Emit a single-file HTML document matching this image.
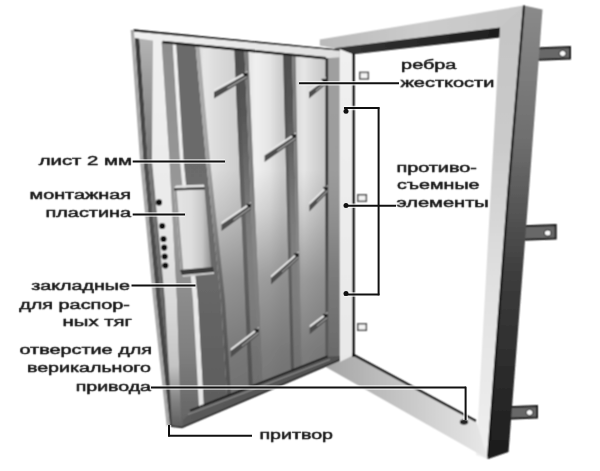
<!DOCTYPE html>
<html><head><meta charset="utf-8"><style>
html,body{margin:0;padding:0;background:#fff;width:600px;height:471px;overflow:hidden}
svg{display:block}
text{font-family:"Liberation Sans",sans-serif;font-size:12.5px;fill:#161616;stroke:#161616;stroke-width:0.45px}
</style></head><body>
<svg width="600" height="471" viewBox="0 0 600 471"><defs><linearGradient id="gTop" x1="0" y1="0" x2="1" y2="0"><stop offset="0" stop-color="#bababa"/><stop offset="0.5" stop-color="#cccccc"/><stop offset="1" stop-color="#c6c6c6"/></linearGradient><linearGradient id="gReb" x1="0" y1="0" x2="1" y2="0"><stop offset="0" stop-color="#333"/><stop offset="1" stop-color="#1e1e1e"/></linearGradient><linearGradient id="gRight" x1="0" y1="0" x2="0" y2="1"><stop offset="0" stop-color="#c4c4c4"/><stop offset="0.3" stop-color="#cacaca"/><stop offset="0.6" stop-color="#e0e0e0"/><stop offset="1" stop-color="#f0f0f0"/></linearGradient><linearGradient id="gDark" x1="0" y1="0" x2="0" y2="1"><stop offset="0" stop-color="#8a8a8a"/><stop offset="0.3" stop-color="#6e6e6e"/><stop offset="0.6" stop-color="#3c3c3c"/><stop offset="1" stop-color="#1c1c1c"/></linearGradient><linearGradient id="gSill" x1="0" y1="0" x2="1" y2="0"><stop offset="0" stop-color="#a4a4a4"/><stop offset="0.45" stop-color="#c4c4c4"/><stop offset="1" stop-color="#e8e8e8"/></linearGradient><linearGradient id="gHinge" x1="0" y1="0" x2="0" y2="1"><stop offset="0" stop-color="#f0f0f0"/><stop offset="1" stop-color="#e8e8e8"/></linearGradient><linearGradient id="gLeaf" x1="0" y1="30" x2="0" y2="430" gradientUnits="userSpaceOnUse"><stop offset="0" stop-color="#cfcfcf"/><stop offset="0.4" stop-color="#bdbdbd"/><stop offset="0.65" stop-color="#9a9a9a"/><stop offset="1" stop-color="#7a7a7a"/></linearGradient><linearGradient id="gA" x1="0" y1="30" x2="0" y2="430" gradientUnits="userSpaceOnUse"><stop offset="0" stop-color="#3a3a3a"/><stop offset="0.4" stop-color="#505050"/><stop offset="1" stop-color="#404040"/></linearGradient><linearGradient id="gB" x1="0" y1="30" x2="0" y2="430" gradientUnits="userSpaceOnUse"><stop offset="0" stop-color="#b8b8b8"/><stop offset="0.3" stop-color="#7a7a7a"/><stop offset="1" stop-color="#555555"/></linearGradient><linearGradient id="gC" x1="0" y1="30" x2="0" y2="430" gradientUnits="userSpaceOnUse"><stop offset="0" stop-color="#f0f0f0"/><stop offset="0.45" stop-color="#eaeaea"/><stop offset="0.7" stop-color="#d8d8d8"/><stop offset="0.84" stop-color="#c4c4c4"/><stop offset="0.93" stop-color="#808080"/><stop offset="1" stop-color="#5a5a5a"/></linearGradient><linearGradient id="gD" x1="0" y1="30" x2="0" y2="430" gradientUnits="userSpaceOnUse"><stop offset="0" stop-color="#8c8c8c"/><stop offset="0.5" stop-color="#9a9a9a"/><stop offset="0.8" stop-color="#808080"/><stop offset="1" stop-color="#606060"/></linearGradient><linearGradient id="gE" x1="0" y1="30" x2="0" y2="430" gradientUnits="userSpaceOnUse"><stop offset="0" stop-color="#f0f0f0"/><stop offset="1" stop-color="#e4e4e4"/></linearGradient><linearGradient id="gF" x1="0" y1="30" x2="0" y2="430" gradientUnits="userSpaceOnUse"><stop offset="0" stop-color="#6a6a6a"/><stop offset="0.5" stop-color="#6c6c6c"/><stop offset="1" stop-color="#5a5a5a"/></linearGradient><linearGradient id="gP" x1="0" y1="0" x2="1" y2="0"><stop offset="0" stop-color="#c8c8c8"/><stop offset="0.08" stop-color="#e6e6e6"/><stop offset="0.35" stop-color="#ececec"/><stop offset="0.65" stop-color="#d2d2d2"/><stop offset="1" stop-color="#c2c2c2"/></linearGradient><linearGradient id="gPv" x1="0" y1="30" x2="0" y2="430" gradientUnits="userSpaceOnUse"><stop offset="0" stop-color="#6a6a6a" stop-opacity="0"/><stop offset="0.35" stop-color="#6a6a6a" stop-opacity="0.0"/><stop offset="0.45" stop-color="#6a6a6a" stop-opacity="0.18"/><stop offset="0.62" stop-color="#6a6a6a" stop-opacity="0.6"/><stop offset="0.8" stop-color="#646464" stop-opacity="0.8"/><stop offset="1" stop-color="#5a5a5a" stop-opacity="0.88"/></linearGradient><linearGradient id="gP1" x1="0" y1="0" x2="1" y2="0"><stop offset="0" stop-color="#c8c8c8"/><stop offset="0.2" stop-color="#e6e6e6"/><stop offset="0.45" stop-color="#dadada"/><stop offset="1" stop-color="#c4c4c4"/></linearGradient><linearGradient id="gP2" x1="0" y1="0" x2="1" y2="0"><stop offset="0" stop-color="#e0e0e0"/><stop offset="0.2" stop-color="#f0f0f0"/><stop offset="0.5" stop-color="#e4e4e4"/><stop offset="0.75" stop-color="#cccccc"/><stop offset="1" stop-color="#c2c2c2"/></linearGradient><linearGradient id="gP3" x1="0" y1="0" x2="1" y2="0"><stop offset="0" stop-color="#d8d8d8"/><stop offset="0.3" stop-color="#e6e6e6"/><stop offset="0.7" stop-color="#d2d2d2"/><stop offset="1" stop-color="#c6c6c6"/></linearGradient><linearGradient id="gS" x1="0" y1="30" x2="0" y2="430" gradientUnits="userSpaceOnUse"><stop offset="0" stop-color="#4c4c4c"/><stop offset="0.2" stop-color="#555555"/><stop offset="0.45" stop-color="#7a7a7a"/><stop offset="0.65" stop-color="#a0a0a0"/><stop offset="1" stop-color="#c0c0c0"/></linearGradient><linearGradient id="gS2" x1="0" y1="30" x2="0" y2="430" gradientUnits="userSpaceOnUse"><stop offset="0" stop-color="#7c7c7c"/><stop offset="0.4" stop-color="#808080"/><stop offset="0.65" stop-color="#a8a8a8"/><stop offset="1" stop-color="#c0c0c0"/></linearGradient><linearGradient id="gM" x1="0" y1="30" x2="0" y2="430" gradientUnits="userSpaceOnUse"><stop offset="0" stop-color="#a0a0a0"/><stop offset="0.5" stop-color="#9a9a9a"/><stop offset="1" stop-color="#7a7a7a"/></linearGradient><linearGradient id="gSL" x1="0" y1="30" x2="0" y2="430" gradientUnits="userSpaceOnUse"><stop offset="0" stop-color="#4a4a4a" stop-opacity="0.3"/><stop offset="0.5" stop-color="#4a4a4a" stop-opacity="0.5"/><stop offset="1" stop-color="#4a4a4a" stop-opacity="0.9"/></linearGradient><linearGradient id="gTR" x1="0" y1="0" x2="1" y2="0"><stop offset="0" stop-color="#f2f2f2"/><stop offset="1" stop-color="#e0e0e0"/></linearGradient><linearGradient id="gBR" x1="0" y1="0" x2="1" y2="0"><stop offset="0" stop-color="#5a5a5a"/><stop offset="1" stop-color="#505050"/></linearGradient><linearGradient id="gPlate" x1="0" y1="0" x2="1" y2="0"><stop offset="0" stop-color="#e4e4e4"/><stop offset="0.45" stop-color="#dedede"/><stop offset="0.75" stop-color="#c8c8c8"/><stop offset="1" stop-color="#8e8e8e"/></linearGradient><filter id="bl" x="-5%" y="-5%" width="110%" height="110%"><feConvolveMatrix order="3" kernelMatrix="1 2 1 2 4 2 1 2 1" divisor="16" edgeMode="none"/></filter><filter id="bt" x="-5%" y="-5%" width="110%" height="110%"><feConvolveMatrix order="3" kernelMatrix="0 1 0 1 6 1 0 1 0" divisor="10" edgeMode="none"/></filter></defs>
<rect width="600" height="471" fill="#fff"/>
<g filter="url(#bl)"><polygon points="534.0,48.5 570.0,47.0 570.0,58.5 534.0,60.0" fill="#686868" stroke="#1a1a1a" stroke-width="2"/><ellipse cx="562.7" cy="53.5" rx="3.4" ry="3.1" fill="#fafafa" stroke="#222" stroke-width="1"/><polygon points="516.7,226.5 555.7,225.0 555.7,238.5 516.7,240.0" fill="#686868" stroke="#1a1a1a" stroke-width="2"/><ellipse cx="547.7" cy="233.0" rx="3.4" ry="3.1" fill="#fafafa" stroke="#222" stroke-width="1"/><polygon points="502.0,407.5 537.0,406.0 537.0,417.5 502.0,419.0" fill="#686868" stroke="#1a1a1a" stroke-width="2"/><ellipse cx="529.6" cy="412.5" rx="3.4" ry="3.1" fill="#fafafa" stroke="#222" stroke-width="1"/><polygon points="319.8,39.6 524.0,5.5 500.0,30.0 500.0,37.4 353.7,54.2 333.8,48.3 319.8,45.4" fill="url(#gTop)" /><polygon points="333.8,48.3 500.0,27.5 500.0,37.4 353.7,54.2" fill="url(#gReb)" /><polygon points="524.0,5.5 508.5,190.0 488.0,459.0 476.0,455.0 500.0,27.5" fill="url(#gRight)" /><polygon points="524.0,5.5 508.5,190.0 488.0,459.0 508.5,452.0 529.0,190.0 542.5,9.5" fill="url(#gDark)" /><polyline points="524.0,5.5 508.5,190.0 488.0,459.0" fill="none" stroke="#151515" stroke-width="2.2"/><polygon points="324.0,366.0 353.0,354.0 476.0,420.0 488.0,459.0" fill="url(#gSill)" /><line x1="352.0" y1="354.0" x2="476.0" y2="421.0" stroke="#1a1a1a" stroke-width="2.40"/><polygon points="339.7,49.0 352.0,54.0 352.0,356.0 339.7,362.0" fill="url(#gHinge)" /><line x1="353.5" y1="53.0" x2="353.5" y2="357.0" stroke="#161616" stroke-width="2.60"/><ellipse cx="464" cy="422" rx="4.2" ry="2.8" fill="#222"/><rect x="359.8" y="72.4" width="8.5" height="6.5" fill="#f4f4f4" stroke="#555" stroke-width="1.5"/><rect x="357.8" y="194.8" width="8.5" height="6.5" fill="#f4f4f4" stroke="#555" stroke-width="1.5"/><rect x="357.8" y="323.8" width="8.5" height="6.5" fill="#f4f4f4" stroke="#555" stroke-width="1.5"/><clipPath id="cl"><polygon points="133.5,29.3 339.7,49.5 339.7,360.0 182.0,427.5 169.5,426.0 156.0,300.0 142.8,160.0"/></clipPath><g clip-path="url(#cl)"><polygon points="133.5,29.3 339.7,49.5 339.7,360.0 182.0,427.5 169.5,426.0 156.0,300.0 142.8,160.0" fill="url(#gLeaf)" /><polygon points="131.5,0.0 135.0,40.0 139.2,100.0 143.3,160.0 149.9,230.0 156.5,300.0 165.1,380.0 170.0,425.0 175.0,471.0 179.5,471.0 174.5,425.0 169.6,380.0 161.0,300.0 154.4,230.0 147.8,160.0 143.7,100.0 139.5,40.0 136.0,0.0" fill="url(#gA)" /><polygon points="136.0,0.0 139.5,40.0 143.7,100.0 147.8,160.0 154.4,230.0 161.0,300.0 169.6,380.0 174.5,425.0 179.5,471.0 175.0,471.0 172.0,425.0 169.5,380.0 165.0,300.0 158.5,230.0 152.0,160.0 152.5,100.0 153.0,40.0 149.0,0.0" fill="url(#gB)" /><polygon points="149.0,0.0 153.0,40.0 152.5,100.0 152.0,160.0 158.5,230.0 165.0,300.0 169.5,380.0 172.0,425.0 175.0,471.0 183.0,471.0 181.0,425.0 179.6,380.0 177.0,300.0 173.2,230.0 169.5,160.0 165.5,100.0 161.5,40.0 158.0,0.0" fill="url(#gC)" /><polygon points="158.0,0.0 161.5,40.0 165.5,100.0 169.5,160.0 173.2,230.0 177.0,300.0 179.6,380.0 181.0,425.0 183.0,471.0 203.0,471.0 200.0,425.0 197.5,380.0 193.0,300.0 186.5,230.0 180.0,160.0 176.2,100.0 172.5,40.0 170.0,0.0" fill="url(#gD)" /><polygon points="170.0,0.0 172.5,40.0 176.2,100.0 180.0,160.0 186.5,230.0 193.0,300.0 197.5,380.0 200.0,425.0 203.0,471.0 208.0,471.0 205.0,425.0 202.5,380.0 198.0,300.0 190.8,230.0 183.6,160.0 179.8,100.0 176.0,40.0 173.5,0.0" fill="url(#gE)" /><polygon points="173.5,0.0 176.0,40.0 179.8,100.0 183.6,160.0 190.8,230.0 198.0,300.0 202.5,380.0 205.0,425.0 208.0,471.0 231.0,471.0 229.0,425.0 226.1,380.0 221.0,300.0 213.5,230.0 206.0,160.0 200.5,100.0 195.0,40.0 192.0,0.0" fill="url(#gF)" /><polygon points="192.0,0.0 195.0,40.0 200.5,100.0 206.0,160.0 213.5,230.0 221.0,300.0 226.1,380.0 229.0,425.0 231.0,471.0 252.4,471.0 250.5,425.0 248.5,380.0 245.1,300.0 242.1,230.0 239.1,160.0 236.5,100.0 234.0,40.0 232.3,0.0" fill="url(#gP1)" /><polygon points="246.1,0.0 247.8,40.0 250.3,100.0 252.9,160.0 255.9,230.0 258.9,300.0 262.3,380.0 264.3,425.0 266.2,471.0 293.5,471.0 292.4,425.0 291.2,380.0 289.2,300.0 287.5,230.0 285.8,160.0 284.2,100.0 282.8,40.0 281.8,0.0" fill="url(#gP2)" /><polygon points="294.6,0.0 295.3,40.0 296.4,100.0 297.5,160.0 298.8,230.0 300.1,300.0 301.6,380.0 302.5,425.0 303.3,471.0 325.5,471.0 325.5,425.0 325.5,380.0 325.5,300.0 325.5,230.0 325.5,160.0 325.5,100.0 325.5,40.0 325.5,0.0" fill="url(#gP3)" /><polygon points="232.3,0.0 234.0,40.0 236.5,100.0 239.1,160.0 242.1,230.0 245.1,300.0 248.5,380.0 250.5,425.0 252.4,471.0 262.4,471.0 260.5,425.0 258.5,380.0 255.1,300.0 252.1,230.0 249.1,160.0 246.5,100.0 244.0,40.0 242.3,0.0" fill="url(#gS)" /><polygon points="242.3,0.0 244.0,40.0 246.5,100.0 249.1,160.0 252.1,230.0 255.1,300.0 258.5,380.0 260.5,425.0 262.4,471.0 266.2,471.0 264.3,425.0 262.3,380.0 258.9,300.0 255.9,230.0 252.9,160.0 250.3,100.0 247.8,40.0 246.1,0.0" fill="url(#gS2)" /><polygon points="281.8,0.0 282.8,40.0 284.2,100.0 285.8,160.0 287.5,230.0 289.2,300.0 291.2,380.0 292.4,425.0 293.5,471.0 301.8,471.0 300.7,425.0 299.7,380.0 297.8,300.0 296.2,230.0 294.6,160.0 293.2,100.0 291.8,40.0 290.8,0.0" fill="url(#gS)" /><polygon points="290.8,0.0 291.8,40.0 293.2,100.0 294.6,160.0 296.2,230.0 297.8,300.0 299.7,380.0 300.7,425.0 301.8,471.0 303.3,471.0 302.5,425.0 301.6,380.0 300.1,300.0 298.8,230.0 297.5,160.0 296.4,100.0 295.3,40.0 294.6,0.0" fill="url(#gS2)" /><polygon points="325.5,0.0 325.5,40.0 325.5,100.0 325.5,160.0 325.5,230.0 325.5,300.0 325.5,380.0 325.5,425.0 325.5,471.0 328.5,471.0 328.5,425.0 328.5,380.0 328.5,300.0 328.5,230.0 328.5,160.0 328.5,100.0 328.5,40.0 328.5,0.0" fill="#2c2c2c" /><polygon points="328.5,0.0 328.5,40.0 328.5,100.0 328.5,160.0 328.5,230.0 328.5,300.0 328.5,380.0 328.5,425.0 328.5,471.0 339.7,471.0 339.7,425.0 339.7,380.0 339.7,300.0 339.7,230.0 339.7,160.0 339.7,100.0 339.7,40.0 339.7,0.0" fill="url(#gM)" /><polygon points="192.0,0.0 195.0,40.0 200.5,100.0 206.0,160.0 213.5,230.0 221.0,300.0 226.1,380.0 229.0,425.0 231.0,471.0 339.7,471.0 339.7,425.0 339.7,380.0 339.7,300.0 339.7,230.0 339.7,160.0 339.7,100.0 339.7,40.0 339.7,0.0" fill="url(#gPv)" /><polygon points="232.3,0.0 234.0,40.0 236.5,100.0 239.1,160.0 242.1,230.0 245.1,300.0 248.5,380.0 250.5,425.0 252.4,471.0 256.4,471.0 254.5,425.0 252.5,380.0 249.1,300.0 246.1,230.0 243.1,160.0 240.5,100.0 238.0,40.0 236.3,0.0" fill="url(#gSL)" /><polygon points="281.8,0.0 282.8,40.0 284.2,100.0 285.8,160.0 287.5,230.0 289.2,300.0 291.2,380.0 292.4,425.0 293.5,471.0 296.5,471.0 295.4,425.0 294.2,380.0 292.2,300.0 290.5,230.0 288.8,160.0 287.2,100.0 285.8,40.0 284.8,0.0" fill="url(#gSL)" /><polygon points="192.0,0.0 195.0,40.0 200.5,100.0 206.0,160.0 213.5,230.0 221.0,300.0 226.1,380.0 229.0,425.0 231.0,471.0 235.0,471.0 233.0,425.0 230.1,380.0 225.0,300.0 217.5,230.0 210.0,160.0 204.5,100.0 199.0,40.0 196.0,0.0" fill="url(#gSL)" /><polygon points="214.0,89.5 247.5,71.0 247.5,73.5 214.0,92.0" fill="#e8e8e8" /><polygon points="214.0,92.0 247.5,73.5 247.5,78.5 214.0,98.5" fill="#4e4e4e" /><polygon points="227.4,87.6 247.5,75.8 247.5,77.0 227.4,88.8" fill="#a8a8a8" /><polygon points="242.5,73.0 247.5,72.5 247.5,76.5 244.5,76.0" fill="#222222" /><polygon points="221.5,222.0 251.0,202.0 251.0,204.5 221.5,224.5" fill="#e8e8e8" /><polygon points="221.5,224.5 251.0,204.5 251.0,209.5 221.5,231.0" fill="#4e4e4e" /><polygon points="233.3,219.5 251.0,206.8 251.0,208.0 233.3,220.7" fill="#a8a8a8" /><polygon points="246.0,204.0 251.0,203.5 251.0,207.5 248.0,207.0" fill="#222222" /><polygon points="230.7,348.5 258.8,327.0 258.8,329.5 230.7,351.0" fill="#e8e8e8" /><polygon points="230.7,351.0 258.8,329.5 258.8,334.5 230.7,357.5" fill="#4e4e4e" /><polygon points="241.9,345.4 258.8,331.8 258.8,333.0 241.9,346.6" fill="#a8a8a8" /><polygon points="253.8,329.0 258.8,328.5 258.8,332.5 255.8,332.0" fill="#222222" /><polygon points="264.6,153.0 296.0,132.5 296.0,135.0 264.6,155.5" fill="#e8e8e8" /><polygon points="264.6,155.5 296.0,135.0 296.0,140.0 264.6,162.0" fill="#4e4e4e" /><polygon points="277.2,150.3 296.0,137.3 296.0,138.5 277.2,151.5" fill="#a8a8a8" /><polygon points="291.0,134.5 296.0,134.0 296.0,138.0 293.0,137.5" fill="#222222" /><polygon points="271.0,275.5 298.6,251.5 298.6,254.0 271.0,278.0" fill="#e8e8e8" /><polygon points="271.0,278.0 298.6,254.0 298.6,259.0 271.0,284.5" fill="#4e4e4e" /><polygon points="282.0,271.4 298.6,256.3 298.6,257.5 282.0,272.6" fill="#a8a8a8" /><polygon points="293.6,253.5 298.6,253.0 298.6,257.0 295.6,256.5" fill="#222222" /><polygon points="309.0,89.5 326.0,77.0 326.0,79.5 309.0,92.0" fill="#e8e8e8" /><polygon points="309.0,92.0 326.0,79.5 326.0,84.5 309.0,98.5" fill="#4e4e4e" /><polygon points="315.8,90.0 326.0,81.8 326.0,83.0 315.8,91.2" fill="#a8a8a8" /><polygon points="321.0,79.0 326.0,78.5 326.0,82.5 323.0,82.0" fill="#222222" /><polygon points="309.4,202.5 327.8,185.0 327.8,187.5 309.4,205.0" fill="#e8e8e8" /><polygon points="309.4,205.0 327.8,187.5 327.8,192.5 309.4,211.5" fill="#4e4e4e" /><polygon points="316.8,201.0 327.8,189.8 327.8,191.0 316.8,202.2" fill="#a8a8a8" /><polygon points="322.8,187.0 327.8,186.5 327.8,190.5 324.8,190.0" fill="#222222" /><polygon points="309.7,325.2 327.5,312.0 327.5,314.5 309.7,327.7" fill="#e8e8e8" /><polygon points="309.7,327.7 327.5,314.5 327.5,319.5 309.7,334.2" fill="#4e4e4e" /><polygon points="316.8,325.4 327.5,316.8 327.5,318.0 316.8,326.6" fill="#a8a8a8" /><polygon points="322.5,314.0 327.5,313.5 327.5,317.5 324.5,317.0" fill="#222222" /><polygon points="120.0,27.0 345.0,47.0 345.0,57.0 326.0,58.3 162.5,42.0 120.0,36.0" fill="url(#gTR)" /><line x1="162.5" y1="42.0" x2="326.0" y2="58.3" stroke="#1a1a1a" stroke-width="2.60"/><line x1="130.0" y1="29.3" x2="340.0" y2="49.0" stroke="#101010" stroke-width="3.60"/><polygon points="193.0,410.6 327.5,356.4 345.0,356.0 345.0,362.0 182.0,430.0 183.0,420.0" fill="url(#gBR)" /><line x1="188.0" y1="414.5" x2="330.0" y2="359.5" stroke="#8a8a8a" stroke-width="1.20"/><line x1="190.0" y1="410.6" x2="327.5" y2="356.4" stroke="#1c1c1c" stroke-width="2.00"/></g><polyline points="132.3,30.0 141.6,160.0 154.8,300.0 168.3,426.0" fill="none" stroke="#a8a8a8" stroke-width="3.2"/><polyline points="169.5,426 182,427.5 339.7,360" fill="none" stroke="#2a2a2a" stroke-width="1.5"/><polygon points="174.0,188.5 204.5,187.5 211.5,271.0 181.0,272.0" fill="url(#gPlate)" /><polygon points="174.0,188.5 176.5,188.5 183.5,272.0 181.0,272.0" fill="#9a9a9a" /><polygon points="174.0,188.0 204.5,187.0 205.0,189.5 174.0,190.5" fill="#404040" /><polygon points="176.0,185.5 204.0,184.5 204.5,187.0 174.0,188.0" fill="#e4e4e4" /><polygon points="180.0,270.0 213.0,267.0 214.0,272.0 182.0,275.0" fill="#3a3a3a" /><polygon points="182.0,275.0 214.0,272.0 214.0,274.0 183.0,277.0" fill="#c8c8c8" /><circle cx="159.0" cy="202.4" r="3.1" fill="#111"/><circle cx="162.2" cy="226.0" r="3.1" fill="#111"/><circle cx="163.5" cy="239.0" r="3.1" fill="#111"/><circle cx="164.2" cy="247.6" r="3.1" fill="#111"/><circle cx="164.7" cy="256.5" r="3.1" fill="#111"/><circle cx="165.3" cy="265.5" r="3.1" fill="#111"/></g>
<g><line x1="132.7" y1="161.5" x2="225.0" y2="161.5" stroke="#ffffff" stroke-opacity="0.75" stroke-width="4.60"/><line x1="132.7" y1="214.5" x2="185.0" y2="214.5" stroke="#ffffff" stroke-opacity="0.75" stroke-width="4.60"/><line x1="131.5" y1="285.4" x2="195.5" y2="285.4" stroke="#ffffff" stroke-opacity="0.75" stroke-width="4.60"/><line x1="151.0" y1="387.5" x2="466.0" y2="387.5" stroke="#ffffff" stroke-opacity="0.75" stroke-width="4.60"/><line x1="465.6" y1="386.7" x2="465.6" y2="420.0" stroke="#ffffff" stroke-opacity="0.75" stroke-width="4.60"/><line x1="169.0" y1="425.0" x2="169.0" y2="436.5" stroke="#ffffff" stroke-opacity="0.75" stroke-width="4.60"/><line x1="168.2" y1="435.8" x2="252.0" y2="435.8" stroke="#ffffff" stroke-opacity="0.75" stroke-width="4.60"/><line x1="299.0" y1="83.3" x2="399.0" y2="83.3" stroke="#ffffff" stroke-opacity="0.75" stroke-width="4.60"/><line x1="344.0" y1="108.0" x2="379.4" y2="108.0" stroke="#ffffff" stroke-opacity="0.75" stroke-width="4.60"/><line x1="378.6" y1="107.2" x2="378.6" y2="295.3" stroke="#ffffff" stroke-opacity="0.75" stroke-width="4.60"/><line x1="344.0" y1="294.5" x2="379.4" y2="294.5" stroke="#ffffff" stroke-opacity="0.75" stroke-width="4.60"/><line x1="344.0" y1="205.7" x2="396.0" y2="205.7" stroke="#ffffff" stroke-opacity="0.75" stroke-width="4.60"/><line x1="132.7" y1="161.5" x2="225.0" y2="161.5" stroke="#101010" stroke-width="2.00"/><line x1="132.7" y1="214.5" x2="185.0" y2="214.5" stroke="#101010" stroke-width="2.00"/><line x1="131.5" y1="285.4" x2="195.5" y2="285.4" stroke="#101010" stroke-width="2.00"/><line x1="151.0" y1="387.5" x2="466.0" y2="387.5" stroke="#101010" stroke-width="2.00"/><line x1="465.6" y1="386.7" x2="465.6" y2="420.0" stroke="#101010" stroke-width="2.00"/><line x1="169.0" y1="425.0" x2="169.0" y2="436.5" stroke="#101010" stroke-width="2.00"/><line x1="168.2" y1="435.8" x2="252.0" y2="435.8" stroke="#101010" stroke-width="2.00"/><line x1="299.0" y1="83.3" x2="399.0" y2="83.3" stroke="#101010" stroke-width="2.00"/><line x1="344.0" y1="108.0" x2="379.4" y2="108.0" stroke="#101010" stroke-width="2.00"/><line x1="378.6" y1="107.2" x2="378.6" y2="295.3" stroke="#101010" stroke-width="2.00"/><line x1="344.0" y1="294.5" x2="379.4" y2="294.5" stroke="#101010" stroke-width="2.00"/><line x1="344.0" y1="205.7" x2="396.0" y2="205.7" stroke="#101010" stroke-width="2.00"/><circle cx="346.0" cy="111.3" r="2.5" fill="#111"/><circle cx="346.0" cy="205.4" r="2.5" fill="#111"/><circle cx="346.0" cy="293.6" r="2.5" fill="#111"/></g>
<g filter="url(#bt)"><text x="38.7" y="165.0" textLength="93.3" lengthAdjust="spacingAndGlyphs">лист 2 мм</text><text x="29.5" y="198.7" textLength="101.5" lengthAdjust="spacingAndGlyphs">монтажная</text><text x="45.5" y="216.7" textLength="85.5" lengthAdjust="spacingAndGlyphs">пластина</text><text x="31.2" y="289.9" textLength="98.8" lengthAdjust="spacingAndGlyphs">закладные</text><text x="19.2" y="309.0" textLength="110.8" lengthAdjust="spacingAndGlyphs">для распор-</text><text x="62.6" y="325.7" textLength="69.4" lengthAdjust="spacingAndGlyphs">ных тяг</text><text x="19.5" y="353.5" textLength="132.5" lengthAdjust="spacingAndGlyphs">отверстие для</text><text x="27.0" y="372.3" textLength="124.0" lengthAdjust="spacingAndGlyphs">верикального</text><text x="75.7" y="391.0" textLength="75.3" lengthAdjust="spacingAndGlyphs">привода</text><text x="259.5" y="439.3" textLength="73.5" lengthAdjust="spacingAndGlyphs">притвор</text><text x="401.1" y="69.3" textLength="55.3" lengthAdjust="spacingAndGlyphs">ребра</text><text x="400.5" y="86.9" textLength="93.9" lengthAdjust="spacingAndGlyphs">жесткости</text><text x="396.4" y="172.0" textLength="80.5" lengthAdjust="spacingAndGlyphs">противо-</text><text x="397.0" y="188.9" textLength="82.5" lengthAdjust="spacingAndGlyphs">съемные</text><text x="396.4" y="206.5" textLength="92.4" lengthAdjust="spacingAndGlyphs">элементы</text></g>
</svg></body></html>
